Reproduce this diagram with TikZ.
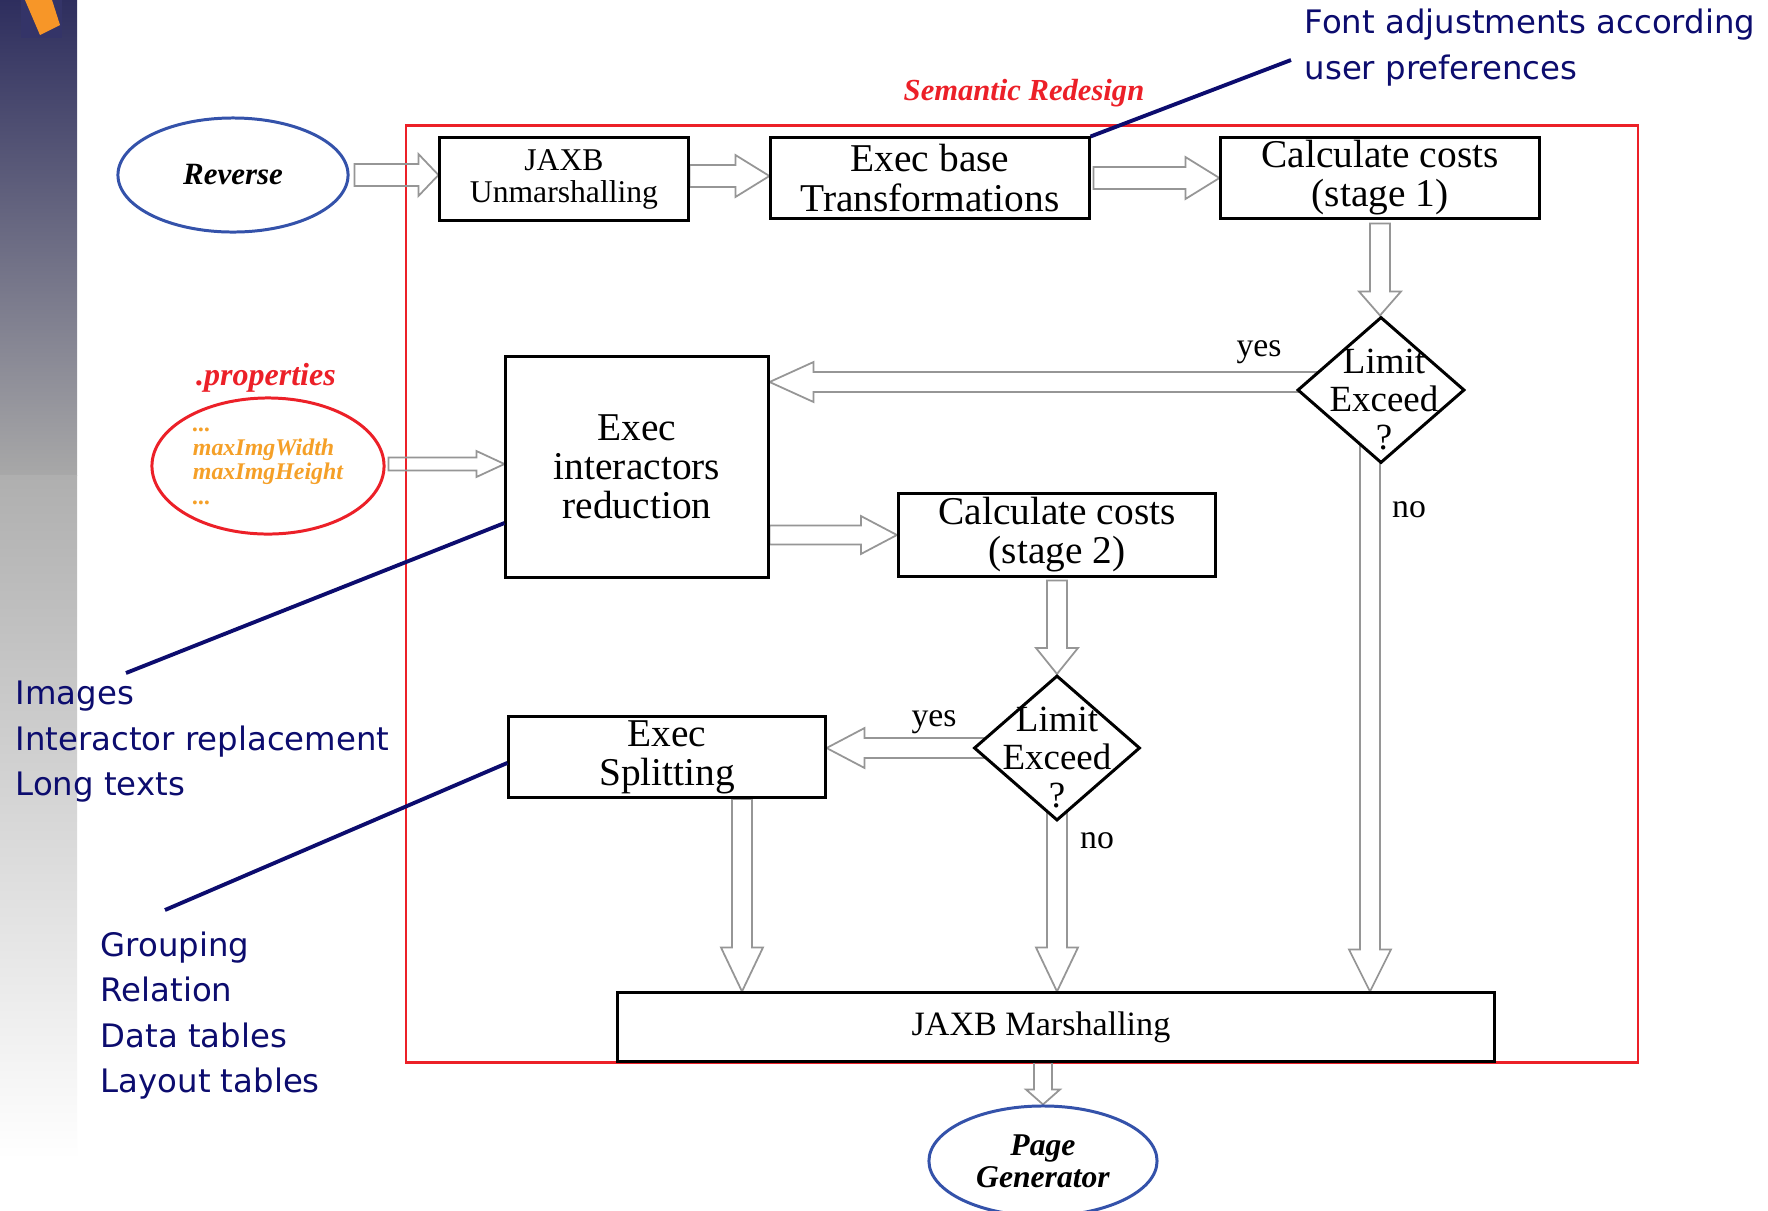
\documentclass[tikz,border=0pt]{standalone}
\usepackage{fontspec}
\setmainfont{Liberation Serif}
\newfontfamily\annotfont{DejaVu Sans}
\usetikzlibrary{shapes.geometric,calc}
\definecolor{navyann}{RGB}{12,12,110}
\definecolor{framered}{RGB}{236,32,40}
\definecolor{ellblue}{RGB}{52,82,170}
\definecolor{arrgray}{RGB}{150,150,150}
\definecolor{orangetxt}{RGB}{245,160,40}
\definecolor{barnavy}{RGB}{46,46,94}
\definecolor{bargray}{RGB}{168,168,168}
\definecolor{logoorange}{RGB}{247,150,40}
\definecolor{logonavy}{RGB}{52,52,104}
\pgfdeclarelayer{bottom}
\pgfdeclarelayer{background}
\pgfsetlayers{bottom,background,main}
\newcommand\pxd{0.28453pt}
% block arrows: #2 start, #3 end, #4 half shaft, #5 half head, #6 head length (px)
\newcommand\rarr[6][]{\draw[barrow,#1] let \p1=#2, \p2=#3 in
 (\x1,\y1+#4*\pxd) -- (\x2-#6*\pxd,\y1+#4*\pxd) -- (\x2-#6*\pxd,\y1+#5*\pxd) -- (\x2,\y1)
 -- (\x2-#6*\pxd,\y1-#5*\pxd) -- (\x2-#6*\pxd,\y1-#4*\pxd) -- (\x1,\y1-#4*\pxd) -- cycle;}
\newcommand\larr[6][]{\draw[barrow,#1] let \p1=#2, \p2=#3 in
 (\x1,\y1+#4*\pxd) -- (\x2+#6*\pxd,\y1+#4*\pxd) -- (\x2+#6*\pxd,\y1+#5*\pxd) -- (\x2,\y1)
 -- (\x2+#6*\pxd,\y1-#5*\pxd) -- (\x2+#6*\pxd,\y1-#4*\pxd) -- (\x1,\y1-#4*\pxd) -- cycle;}
\newcommand\darr[6][]{\draw[barrow,#1] let \p1=#2, \p2=#3 in
 (\x1-#4*\pxd,\y1) -- (\x1-#4*\pxd,\y2+#6*\pxd) -- (\x1-#5*\pxd,\y2+#6*\pxd) -- (\x1,\y2)
 -- (\x1+#5*\pxd,\y2+#6*\pxd) -- (\x1+#4*\pxd,\y2+#6*\pxd) -- (\x1+#4*\pxd,\y1) -- cycle;}
\tikzset{
 box/.style={draw=black, line width=0.85pt, fill=white, inner sep=0pt, align=center, font=\fontsize{11.2}{11.1}\selectfont},
 smallbox/.style={box, font=\fontsize{9}{9.1}\selectfont},
 decision/.style={diamond, draw=black, line width=0.85pt, fill=white, inner sep=0pt},
 dtext/.style={align=center, inner sep=0pt, font=\fontsize{10.5}{10.8}\selectfont},
 oval/.style={ellipse, draw=ellblue, line width=0.85pt, fill=white, inner sep=0pt, align=center, font=\bfseries\itshape\fontsize{9}{9.1}\selectfont},
 flowlabel/.style={inner sep=0pt, font=\fontsize{9.6}{10}\selectfont},
 barrow/.style={draw=arrgray, line width=0.5pt, line join=miter},
 callout/.style={draw=navyann, line width=1.1pt},
 annot/.style={text=navyann, align=left, inner sep=0pt, anchor=base west, font=\annotfont\fontsize{9.2}{12.8}\selectfont},
 redtitle/.style={text=framered, inner sep=0pt, font=\bfseries\itshape\fontsize{8.7}{9}\selectfont},
}
\begin{document}
\begin{tikzpicture}[x=0.01cm,y=-0.01cm]
\useasboundingbox (0,0) rectangle (1768,1211);
\begin{pgfonlayer}{bottom}
 \fill[white] (0,0) rectangle (1768,1211);
 \shade[top color=barnavy, bottom color=bargray] (0,0) rectangle (77,475);
 \shade[top color=bargray!92!white, bottom color=white] (0,475) rectangle (77,1160);
 \fill[logonavy] (21,0) rectangle (62,38);
 \fill[logoorange] (25,0) -- (52,0) -- (60,25) -- (40,35) -- cycle;
 \draw[framered, line width=0.85pt] (406,125) rectangle (1638,1062);
\end{pgfonlayer}

\node[redtitle] (semtitle) at (1024,93) {Semantic Redesign};
\node[redtitle, font=\bfseries\itshape\fontsize{9.1}{9.2}\selectfont] (proptitle) at (266,378) {.properties};

% nodes
\node[oval, minimum width=2.30cm, minimum height=1.14cm, font=\bfseries\itshape\fontsize{8.8}{9}\selectfont] (rev) at (233,175) {Reverse};
\node[oval, draw=framered, minimum width=2.32cm, minimum height=1.36cm, align=left, text=orangetxt, font=\bfseries\itshape\fontsize{6.8}{6.9}\selectfont] (props) at (268,466) {...\\maxImgWidth\\maxImgHeight\\...};
\node[smallbox, minimum width=2.48cm, minimum height=0.82cm] (jaxbu) at (564,179) {JAXB\\Unmarshalling};
\node[box, minimum width=3.18cm, minimum height=0.80cm] (exbase) at (930,178) {Exec base\\Transformations};
\node[box, minimum width=3.18cm, minimum height=0.80cm] (calc1) at (1380,178) {Calculate costs\\(stage 1)};
\node[decision, minimum width=1.67cm, minimum height=1.46cm] (d1) at (1381,390) {};
\node[dtext] (d1t) at ($(d1)+(3,10)$) {Limit\\Exceed\\?};
\node[box, minimum width=2.62cm, minimum height=2.21cm] (exint) at (637,467) {Exec\\interactors\\reduction};
\node[box, minimum width=3.17cm, minimum height=0.82cm] (calc2) at (1057,535) {Calculate costs\\(stage 2)};
\node[decision, minimum width=1.66cm, minimum height=1.45cm] (d2) at (1057,748) {};
\node[dtext] (d2t) at ($(d2)+(0,10)$) {Limit\\Exceed\\?};
\node[box, minimum width=3.16cm, minimum height=0.81cm] (split) at (667,757) {Exec\\Splitting};
\node[box, minimum width=8.76cm, minimum height=0.68cm, font=\fontsize{9.7}{10}\selectfont] (jaxbm) at (1056,1027) {\hspace*{-0.3cm}JAXB Marshalling};
\node[oval, minimum width=2.28cm, minimum height=1.10cm] (pg) at (1043,1161) {Page\\Generator};

% flow labels
\node[flowlabel] (yes1) at (1259,352) {yes};
\node[flowlabel] (no1) at (1409,510) {no};
\node[flowlabel] (yes2) at (934,722) {yes};
\node[flowlabel] (no2) at (1097,841) {no};

% block arrows
\begin{pgfonlayer}{background}
 \rarr{($(rev.east)+(5,0)$)}{(jaxbu.west)}{11}{21}{20}
 \rarr{($(jaxbu.east)+(0,-3)$)}{(exbase.west)}{11}{21}{34}
 \rarr{($(exbase.east)+(3,0)$)}{(calc1.west)}{11}{21}{34}
 \darr{($(calc1.south)+(0,4)$)}{(d1.north)}{10}{21}{24}
 \larr{($(d1.west)+(25,-8)$)}{(exint.east)}{10}{20}{44}
 \rarr{($(props.east)+(3,-2)$)}{(exint.west)}{6.5}{13}{28}
 \rarr{(exint.east |- calc2.west)}{(calc2.west)}{9.5}{19}{36}
 \darr{($(calc2.south)+(0,3)$)}{(d2.north)}{10}{21}{26}
 \larr{($(d2.west)+(15,0)$)}{(split.east)}{10}{20}{38}
 \darr{($(split.south)+(75,0)$)}{(jaxbm.north)}{10}{21}{44}
 \darr{($(d2.south)+(0,-15)$)}{(jaxbm.north)}{10}{21}{44}
 \darr{($(d1.south)+(-11,-25)$)}{(jaxbm.north)}{10}{21}{42}
 \darr{(pg.north |- jaxbm.south)}{(pg.north)}{9}{17}{15}
\end{pgfonlayer}

% annotations (base = baseline of the last line)
\node[annot] (fontnote) at (1304,79) {Font adjustments according\\user preferences};
\node[annot] (imgnote) at (15,795) {Images\\Interactor replacement\\Long texts};
\node[annot] (grpnote) at (100,1092) {Grouping\\Relation\\Data tables\\Layout tables};
\coordinate (fontend) at (1291,60);
\coordinate (imgend) at (126,673);
\coordinate (grpend) at (165,910);
\draw[callout] (exbase.north east) -- (fontend);
\draw[callout] (imgend) -- ($(exint.south west)!0.25!(exint.north west)$);
\draw[callout] (grpend) -- ($(split.south west)!0.43!(split.north west)$);
\end{tikzpicture}
\end{document}
